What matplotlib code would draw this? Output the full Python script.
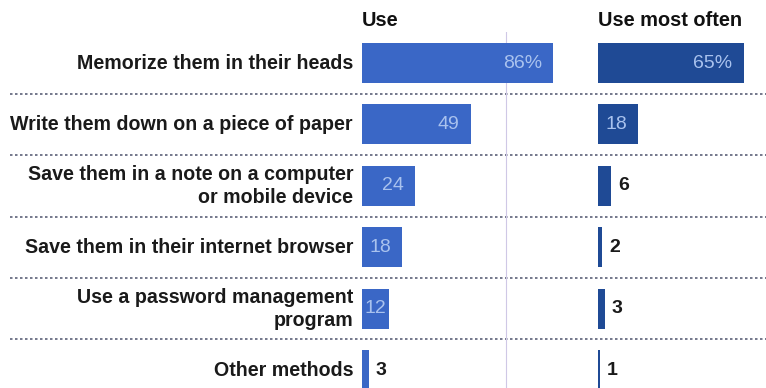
import matplotlib.pyplot as plt

# Password habits: share who use each method, and who use it most often
methods = [
    "Memorize them in their heads",
    "Write them down on a piece of paper",
    "Save them in a note on a computer\nor mobile device",
    "Save them in their internet browser",
    "Use a password management\nprogram",
    "Other methods",
]
use = [86, 49, 24, 18, 12, 3]
use_most_often = [65, 18, 6, 2, 3, 1]

W, H = 766, 388
PX = 1 / W
rows = list(range(len(methods)))
ylim = (5.29, -0.505)

plt.rcParams['font.family'] = ['Liberation Sans', 'DejaVu Sans']

fig = plt.figure(figsize=(W / 100, H / 100), dpi=100)

# background axes for separators, faint guide line and row labels
bg = fig.add_axes([0, 0, 1, 1 - 32 / H])
bg.set_xlim(0, W)
bg.set_ylim(*ylim)
bg.axis('off')
for r in rows[:-1]:
    bg.plot([10, W], [r + 0.5, r + 0.5], color='#3f4560', lw=1.2,
            ls=(0, (1.5, 1.5)), alpha=0.85)
bg.plot([506, 506], [ylim[1] - 1, ylim[0]], color='#cfc8e6', lw=0.8)
for r, name in zip(rows, methods):
    bg.text(353, r, name, ha='right', va='center', fontsize=14.1,
            color='#1a1a1a', fontweight='bold', linespacing=1.3)


def bar_panel(left_px, width_px, xmax, values, color, title):
    ax = fig.add_axes([left_px * PX, 0, width_px * PX, 1 - 32 / H])
    ax.set_xlim(0, xmax)
    ax.set_ylim(*ylim)
    ax.axis('off')
    ax.barh(rows, values, height=0.65, color=color)
    for r, v in zip(rows, values):
        txt = f"{v}%" if r == 0 else str(v)
        if v >= 10:
            ax.annotate(txt, (v, r), xytext=(-8 if v > 12 else -1.5, 0),
                        textcoords='offset points', ha='right', va='center',
                        fontsize=14, color='#a9c2ee')
        else:
            ax.annotate(txt, (v, r), xytext=(5, 0),
                        textcoords='offset points', ha='left', va='center',
                        fontsize=14, color='#1a1a1a', fontweight='bold')
    fig.text(left_px * PX, 1 - 20 / H, title, ha='left', va='center',
             fontsize=14.4, fontweight='bold', color='#111111')
    return ax


bar_panel(362, 222, 100, use, '#3a67c6', 'Use')
bar_panel(598, 168, 75, use_most_often, '#1f4a95', 'Use most often')

fig.savefig('out.png', dpi=100, facecolor='white')
